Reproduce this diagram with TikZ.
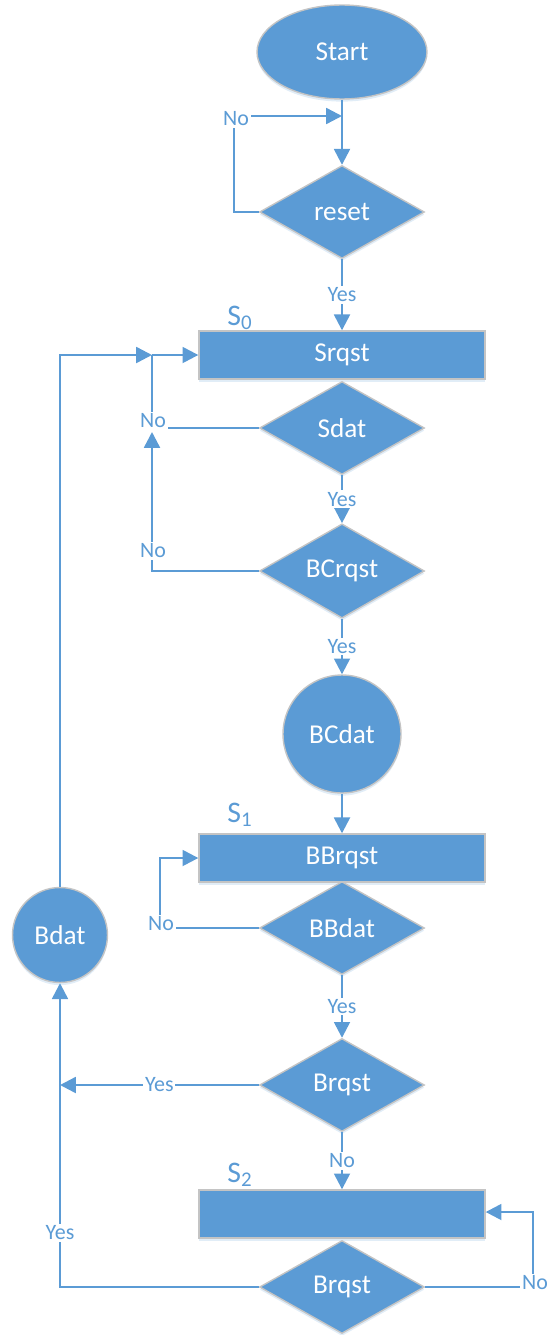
\documentclass[tikz,border=0pt]{standalone}
\usepackage{fontspec}
\setmainfont{Carlito}
\usepackage{tikz}
\usetikzlibrary{arrows.meta,shapes.geometric,shadows}
\definecolor{boxblue}{HTML}{5B9BD5}
\definecolor{boxedge}{HTML}{C4C4C4}
\tikzset{
	shape box/.style={fill=boxblue, draw=boxedge, line width=0.8pt, text=white,
		font=\fontsize{15.5}{17}\selectfont, inner sep=0pt,
		drop shadow={shadow xshift=0pt, shadow yshift=-1.5pt, fill=boxblue!60, opacity=0.3}},
	startbox/.style={shape box, ellipse, minimum width=3.4cm, minimum height=1.88cm},
	statebox/.style={shape box, rectangle, minimum width=5.72cm, minimum height=0.96cm},
	testbox/.style={shape box, diamond, minimum width=3.3cm, minimum height=1.86cm},
	databox/.style={shape box, circle, minimum size=#1},
	line/.style={draw=boxblue, line width=1.4pt},
	flow/.style={line, -{Triangle[length=9pt,width=9pt]}},
	lbl/.style={fill=white, text=boxblue, inner sep=1pt, font=\fontsize{12.5}{14}\selectfont},
	statelbl/.style={text=boxblue, font=\fontsize{17}{19}\selectfont}
}

\begin{document}
\begin{tikzpicture}[x=0.02cm, y=-0.02cm]
			%%%%% START %%%%%
			\useasboundingbox (0, 0) rectangle (547, 1335);
			
			\node[startbox] (start) at (342, 52) {Start};
			\node[testbox] (reset) at (342, 212) {reset};
			\node[statebox] (srqst) at (342, 355) {Srqst};
			\node[testbox] (sdat) at (342, 428) {Sdat};
			\node[testbox] (bcrqst) at (342, 571) {BCrqst};
			\node[databox=2.36cm] (bcdat) at (342, 734) {BCdat};
			\node[statebox] (bbrqst) at (342, 858) {BBrqst};
			\node[testbox] (bbdat) at (342, 928) {BBdat};
			\node[testbox] (brqst) at (342, 1085) {Brqst};
			\node[statebox] (idle) at (342, 1214) {};
			\node[testbox] (brqsttwo) at (342, 1287) {Brqst};
			\node[databox=1.9cm] (bdat) at (60, 935) {Bdat};
			
			\node[statelbl] (szero) at (240, 318) {S\textsubscript{0}};
			\node[statelbl] (sone) at (240, 815) {S\textsubscript{1}};
			\node[statelbl] (stwo) at (240, 1175) {S\textsubscript{2}};
			
			\coordinate (rtop) at (234, 116);
			\coordinate (jn) at (152, 355);
			\coordinate (nj) at (152, 428);
			\coordinate (njarrow) at (152, 432);
			\coordinate (bbtop) at (160, 858);
			\coordinate (idlecorner) at (533, 1212);
			\coordinate (bdatin) at (60, 1085);
			
			% reset
			\draw[flow] (start) -- (reset);
			\draw[flow] (reset.west) -| (rtop) -- (start.south |- rtop);
			\node[lbl] at (236, 119) {No};
			\draw[flow] (reset) -- node[lbl] {Yes} (srqst);
			
			% S0
			\draw[line] (sdat.west) -- (nj) -- (jn);
			\draw[flow] (jn) -- (srqst.west);
			\draw[flow] (bcrqst.west) -| (njarrow);
			\node[lbl] at (153, 421) {No};
			\node[lbl] at (153, 551) {No};
			\draw[flow] (sdat) -- node[lbl] {Yes} (bcrqst);
			\draw[flow] (bcrqst) -- node[lbl] {Yes} (bcdat);
			
			% S1
			\draw[flow] (bcdat) -- (bbrqst);
			\draw[flow] (bbdat.west) -| (bbtop) -- (bbrqst.west);
			\node[lbl] at (161, 924) {No};
			\draw[flow] (bbdat) -- node[lbl] {Yes} (brqst);
			\draw[flow] (brqst.west) -- node[lbl] {Yes} (bdatin);
			\draw[flow] (brqst) -- node[lbl] {No} (idle);
			
			% S2
			\draw[flow] (brqsttwo.east) -| (idlecorner) -- (idle.east |- idlecorner);
			\node[lbl] at (535, 1283) {No};
			\draw[flow] (brqsttwo.west) -| (bdat.south);
			\node[lbl] at (60, 1233) {Yes};
			\draw[flow] (bdat.north) |- (jn);
			%%%%% END %%%%%
\end{tikzpicture}
\end{document}
